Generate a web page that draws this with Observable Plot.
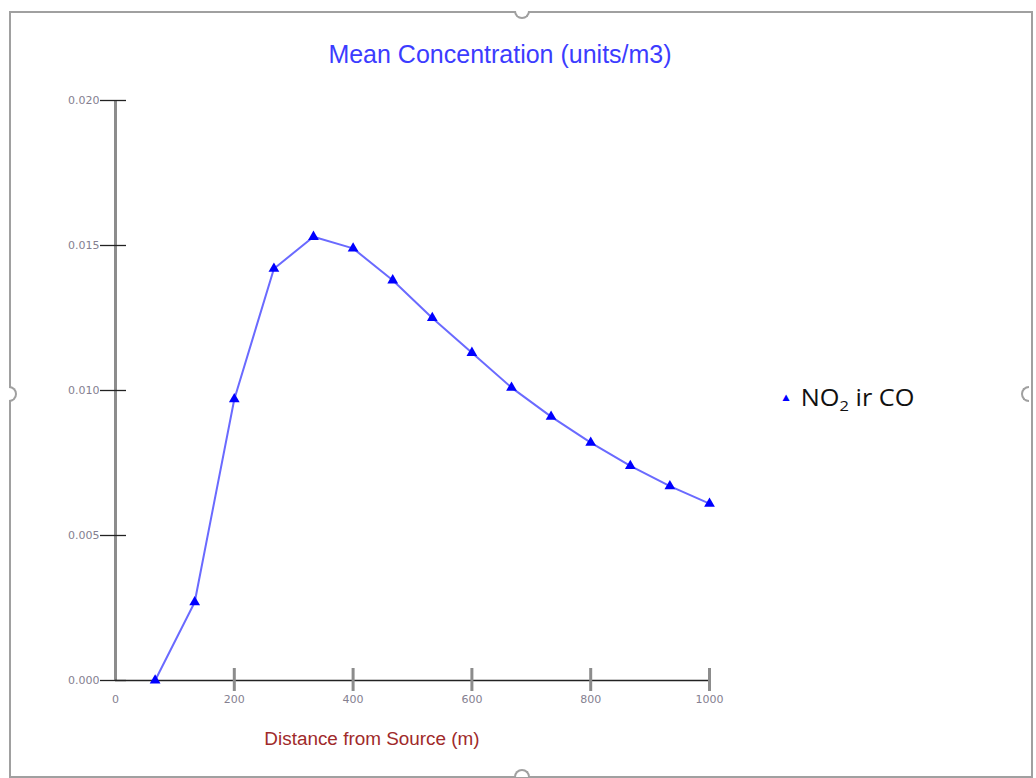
<!DOCTYPE html>
<html>
<head>
<meta charset="utf-8">
<script src="https://cdn.jsdelivr.net/npm/d3@7"></script>
<script src="https://cdn.jsdelivr.net/npm/@observablehq/plot@0.6"></script>
<style>
  html, body { margin: 0; padding: 0; background: #fff; }
  #wrap { position: relative; width: 1036px; height: 778px; overflow: hidden; }
  #chart { position: absolute; left: 0; top: 0; }
  .frame { position: absolute; left: 9px; top: 11px; width: 1020px; height: 763px; border: 2px solid #a0a0a0; }
  .handle { position: absolute; width: 12px; height: 6px; border: 2px solid #a0a0a0; background: #fff; }
  .title { position: absolute; top: 40px; left: 0; width: 1000px; text-align: center;
    font-family: "Liberation Sans", Arial, sans-serif; font-size: 25px; color: #3c3cff; }
  .xlabel { position: absolute; top: 729px; left: 172px; width: 400px; text-align: center;
    font-family: "Liberation Sans", Arial, sans-serif; font-size: 18px; color: #a02a2a;
    transform: scaleX(1.05); }
  .legend { position: absolute; left: 780px; top: 381px; font-family: "Open Sans", sans-serif; font-size: 23px; color: #111; white-space: nowrap;
    transform: scaleX(1.1); transform-origin: left center; }
  .legend .sym { color: #0000ff; font-size: 11px; vertical-align: 5px; margin-right: 8px; }
  .legend sub { font-size: 15px; vertical-align: -5px; line-height: 0; }
</style>
</head>
<body>
<div id="wrap">
  <div class="frame"></div>
  <div class="handle" style="left:514px; top:11px; border-top:none; border-radius:0 0 8px 8px;"></div>
  <div class="handle" style="left:514px; top:769px; border-bottom:none; border-radius:8px 8px 0 0;"></div>
  <div class="handle" style="left:9px; top:386px; width:6px; height:12px; border-left:none; border-radius:0 8px 8px 0;"></div>
  <div class="handle" style="left:1021px; top:386px; width:6px; height:12px; border-right:none; border-radius:8px 0 0 8px;"></div>
  <div class="title">Mean Concentration (units/m3)</div>
  <div id="chart"></div>
  <div class="xlabel">Distance from Source (m)</div>
  <div class="legend"><span class="sym">▲</span>NO<sub>2</sub> ir CO</div>
</div>
<script>
const distance = [66.7, 133.3, 200, 266.7, 333.3, 400, 466.7, 533.3, 600, 666.7, 733.3, 800, 866.7, 933.3, 1000];
const concentration = [0.0000, 0.0027, 0.0097, 0.0142, 0.0153, 0.0149, 0.0138, 0.0125, 0.0113, 0.0101, 0.0091, 0.0082, 0.0074, 0.0067, 0.0061];
const xTickLabels = [0, 200, 400, 600, 800, 1000];
const xTickMarks = [200, 400, 600, 800, 1000];
const yTicks = [0, 0.005, 0.010, 0.015, 0.020];

const data = distance.map((d, i) => ({x: d, y: concentration[i]}));

const chart = Plot.plot({
  width: 1036,
  height: 778,
  marginLeft: 115,
  marginRight: 327,
  marginTop: 100,
  marginBottom: 98,
  style: {background: "transparent", fontFamily: "DejaVu Sans, sans-serif"},
  x: {domain: [0, 1000], axis: null},
  y: {domain: [0, 0.02], axis: null},
  marks: [
    Plot.ruleX([0], {stroke: "#8c8c8c", strokeWidth: 3}),
    Plot.ruleY([0], {stroke: "#222", strokeWidth: 1.5}),
    Plot.axisX(xTickMarks, {tickSize: 23, dy: -12, stroke: "#8c8c8c", strokeWidth: 3, fill: "none", label: null}),
    Plot.axisX(xTickLabels, {tickSize: 0, tickPadding: 15, tickFormat: "d", fill: "#857f90", fontSize: 11, label: null}),
    Plot.axisY(yTicks, {tickSize: 26, dx: 11, stroke: "#222", strokeWidth: 1.3, fill: "none", label: null}),
    Plot.axisY(yTicks, {tickSize: 0, tickPadding: 16, tickFormat: ".3f", fill: "#857f90", fontSize: 11, label: null}),
    Plot.line(data, {x: "x", y: "y", stroke: "#6a6aff", strokeWidth: 2}),
    Plot.dot(data, {x: "x", y: "y", symbol: "triangle", r: 4, fill: "#0000ff", stroke: "none"})
  ]
});
document.getElementById("chart").appendChild(chart);
</script>
</body>
</html>
